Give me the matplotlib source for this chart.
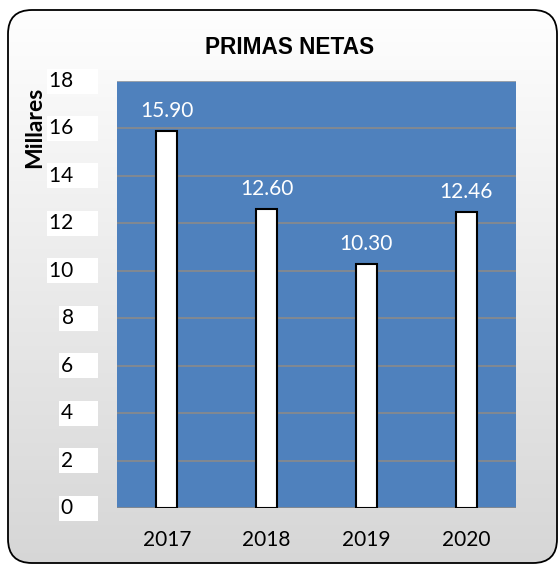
import matplotlib
matplotlib.use('Agg')
import matplotlib.pyplot as plt
import numpy as np
from matplotlib.patches import FancyBboxPatch

# data
years = ['2017', '2018', '2019', '2020']
primas = [15.90, 12.60, 10.30, 12.46]
y_ticks = [0, 2, 4, 6, 8, 10, 12, 14, 16, 18]

W, H, DPI = 559, 565, 100
PX = 72 / DPI  # points per pixel

fig = plt.figure(figsize=(W / DPI, H / DPI), dpi=DPI)
fig.patch.set_facecolor('white')

# background: rounded frame with light vertical gradient
bg = fig.add_axes([0, 0, 1, 1], zorder=-1)
bg.set_xlim(0, W)
bg.set_ylim(H, 0)
bg.axis('off')
grad = np.linspace(1.0, 0.84, 256)[:, None, None] * np.ones((1, 1, 3))
img = bg.imshow(grad, extent=(0, W, H, 0), aspect='auto', zorder=0)
frame = FancyBboxPatch((8, 10), 549, 553, boxstyle="round,pad=0,rounding_size=24",
                       facecolor='none', edgecolor='black', linewidth=1.3, zorder=2)
bg.add_patch(frame)
img.set_clip_path(frame)

# main plot area
ax = fig.add_axes([117 / W, 1 - 508 / H, (516 - 117) / W, (508 - 81) / H])
ax.set_facecolor('#4F81BD')
x = np.arange(len(years))
ax.bar(x, primas, width=0.21, color='white', edgecolor='black', linewidth=1.5, zorder=3)
ax.set_xlim(-0.5, len(years) - 0.5)
ax.set_ylim(0, 18)
for s in ax.spines.values():
    s.set_visible(False)
for v in y_ticks[:-1]:
    ax.axhline(v, color='#8a8a8a', linewidth=1.2, zorder=1)
ax.axhline(y_ticks[-1], color='#a8a8a8', linewidth=1.2, zorder=1)

# value labels
for xi, v in zip(x, primas):
    ax.annotate(f"{v:.2f}", (xi, v), xytext=(0, 14 * PX), textcoords='offset points',
                ha='center', va='baseline', color='white', fontsize=15, family='Lato')

# x labels
ax.set_xticks(x)
ax.set_xticklabels(years, fontsize=15, family='Lato')
ax.tick_params(axis='x', length=0, pad=22 * PX)

# y labels with white boxes
ax.set_yticks([])
for v in y_ticks:
    ax.annotate(f"{v}    ", (0, v), xycoords=('axes fraction', 'data'),
                xytext=(-22 * PX, 0), textcoords='offset points',
                ha='right', va='center', fontsize=15, family='Lato',
                bbox=dict(facecolor='white', edgecolor='none', pad=1.8))

fig.text(35 / W, 1 - 127 / H, 'Millares', rotation=90, ha='center', va='center',
         fontsize=16.5, fontweight='bold', family='Lato')
fig.text(289.5 / W, 1 - 48 / H, 'PRIMAS NETAS', ha='center', va='center',
         fontsize=16.3, fontweight='bold', family='Liberation Sans')

fig.savefig('out.png', dpi=DPI)
